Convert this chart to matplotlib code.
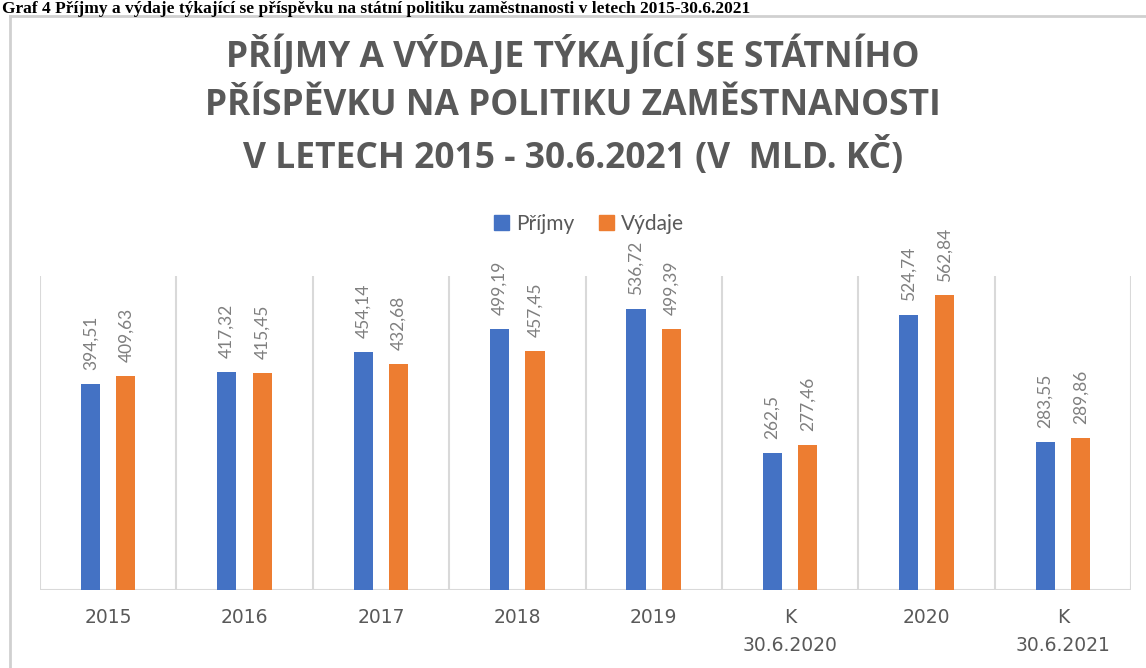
import numpy as np
import matplotlib.pyplot as plt
from matplotlib.lines import Line2D
from matplotlib.patches import Patch

# Data (mld. Kč)
kategorie = ['2015', '2016', '2017', '2018', '2019', 'K\n30.6.2020', '2020', 'K\n30.6.2021']
prijmy = [394.51, 417.32, 454.14, 499.19, 536.72, 262.5, 524.74, 283.55]
vydaje = [409.63, 415.45, 432.68, 457.45, 499.39, 277.46, 562.84, 289.86]
popisky_prijmy = ['394,51', '417,32', '454,14', '499,19', '536,72', '262,5', '524,74', '283,55']
popisky_vydaje = ['409,63', '415,45', '432,68', '457,45', '499,39', '277,46', '562,84', '289,86']

modra = '#4472C4'
oranzova = '#ED7D31'
seda = '#595959'
mrizka = '#D9D9D9'

W, H = 1146, 668
fig = plt.figure(figsize=(W / 100, H / 100), dpi=100)
ax = fig.add_axes([40 / W, 1 - 590 / H, (1131 - 40) / W, (590 - 276) / H])

x = np.arange(len(kategorie))
sirka = 0.14
posun = 0.13
b1 = ax.bar(x - posun, prijmy, sirka, color=modra, zorder=3)
b2 = ax.bar(x + posun, vydaje, sirka, color=oranzova, zorder=3)

for bars, texty in ((b1, popisky_prijmy), (b2, popisky_vydaje)):
    for b, t in zip(bars, texty):
        ax.annotate(t, (b.get_x() + b.get_width() / 2, b.get_height()),
                    xytext=(0, 10), textcoords='offset points',
                    rotation=90, ha='center', va='bottom',
                    fontsize=12.5, color='#7F7F7F', family='Lato')

ax.set_xlim(-0.5, len(kategorie) - 0.5)
ax.set_ylim(0, 600)
for s in np.arange(-0.5, len(kategorie), 1.0):
    ax.axvline(s, color=mrizka, lw=1.5, zorder=1)
ax.axhline(0, color=mrizka, lw=1.5, zorder=2)

for sp in ax.spines.values():
    sp.set_visible(False)
ax.set_yticks([])
ax.set_xticks(x)
ax.set_xticklabels(kategorie, fontsize=13.5, color=seda, family='DejaVu Sans',
                   linespacing=1.6)
ax.tick_params(axis='x', length=0, pad=13)

# Title
fig.text(573 / W, 1 - 106 / H,
         'PŘÍJMY A VÝDAJE TÝKAJÍCÍ SE STÁTNÍHO\n'
         'PŘÍSPĚVKU NA POLITIKU ZAMĚSTNANOSTI\n'
         'V LETECH 2015 - 30.6.2021 (V  MLD. KČ)',
         ha='center', va='center', fontsize=25.5, fontweight='bold',
         color=seda, family='Open Sans', linespacing=1.45)

# Legend
fig.legend(handles=[Patch(color=modra, label='Příjmy'),
                    Patch(color=oranzova, label='Výdaje')],
           loc='center', bbox_to_anchor=(589 / W, 1 - 224 / H), ncol=2,
           frameon=False, prop={'family': 'Lato', 'size': 15},
           labelcolor=seda, handlelength=0.7, handleheight=0.7,
           handletextpad=0.35, columnspacing=1.2)

# Outer chart border
fig.add_artist(Line2D([10 / W, 10 / W], [0, 1 - 16 / H], color='#D0D0D0', lw=2,
                      transform=fig.transFigure))
fig.add_artist(Line2D([10 / W, 1], [1 - 16 / H, 1 - 16 / H], color='#D0D0D0', lw=2,
                      transform=fig.transFigure))

# Caption above the chart
fig.text(2 / W, 1 - 13 / H,
         'Graf 4 Příjmy a výdaje týkající se příspěvku na státní politiku '
         'zaměstnanosti v letech 2015-30.6.2021',
         ha='left', va='baseline', fontsize=12.5, fontweight='bold',
         family='Liberation Serif', color='black')

fig.savefig('out.png', dpi=100)
